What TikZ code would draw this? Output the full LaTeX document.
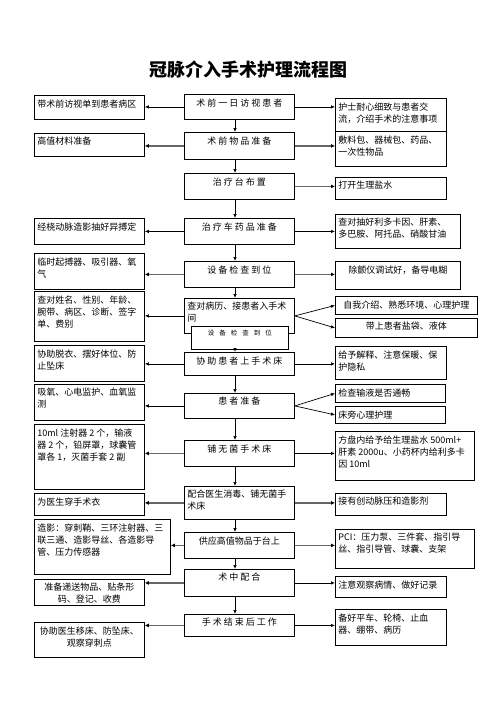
\documentclass[tikz,border=0pt]{standalone}
\usepackage{fontspec}
\setmainfont{Noto Sans CJK SC}
\usetikzlibrary{arrows.meta}

\tikzset{
  box/.style={draw, line width=0.8pt, fill=white, anchor=north west,
    inner xsep=3pt, inner ysep=4pt, font=\fontsize{9}{12}\selectfont},
  arr/.style={line width=0.7pt, -{Latex[length=4pt,width=3.5pt]}},
  garr/.style={line width=1.5pt, draw=black!60, -{Latex[length=4pt,width=4pt,black]}}
}
% name, x, y, width, height, text
\newcommand\bx[6]{\node[box] (#1) at (#2,#3)
  {\parbox[t][\dimexpr#5pt-8pt\relax][t]{\dimexpr#4pt-6pt\relax}{\raggedright #6}};}

\begin{document}
\begin{tikzpicture}[x=1pt,y=-1pt]
\useasboundingbox (0,0) rectangle (496,702);

\node[font=\fontsize{18}{18}\selectfont\bfseries] (title) at (248,70) {冠脉介入手术护理流程图};

% middle column
\bx{c1}{184}{94}{110}{25}{\centering 术 前 一 日 访 视 患 者}
\bx{c2}{184}{132}{110}{27}{\centering 术 前 物 品 准 备}
\bx{c3}{184}{173}{110}{26}{\centering 治 疗 台 布 置}
\bx{c4}{184}{218}{110}{26}{\centering 治 疗 车 药 品 准 备}
\bx{c5}{184}{261}{110}{26}{\centering 设 备 检 查 到 位}
\bx{c6}{184}{298}{110}{35}{查对病历、接患者入手术\\间}
\bx{c6b}{191}{326}{97}{23}{\centering\fontsize{6.5}{8}\selectfont
  设\hspace{5pt}备\hspace{5pt}检\hspace{5pt}查\hspace{5pt}到\hspace{5pt}位}
\bx{c7}{184}{352}{110}{23}{\centering 协 助 患 者 上 手 术 床}
\bx{c8}{184}{393}{110}{25}{\centering 患 者 准 备}
\bx{c9}{184}{440}{110}{26}{\centering 铺 无 菌 手 术 床}
\bx{c10}{184}{486}{110}{33}{配合医生消毒、铺无菌手\\术床}
\bx{c11}{184}{532}{110}{26}{\centering 供应高值物品于台上}
\bx{c12}{184}{569}{110}{27}{\centering 术 中 配 合}
\bx{c13}{184}{614}{110}{22}{\centering 手 术 结 束 后 工 作}

% left column
\bx{l1}{34}{95}{110}{24}{带术前访视单到患者病区}
\bx{l2}{34}{133}{110}{23}{高值材料准备}
\bx{l3}{34}{218}{110}{26}{经桡动脉造影抽好异搏定}
\bx{l4}{34}{253}{110}{36}{临时起搏器、吸引器、氧\\气}
\bx{l5}{34}{291}{110}{50}{查对姓名、性别、年龄、\\腕带、病区、诊断、签字\\单、费别}
\bx{l6}{34}{345}{110}{36}{协助脱衣、摆好体位、防\\止坠床}
\bx{l7}{34}{384}{110}{36}{吸氧、心电监护、血氧监\\测}
\bx{l8}{34}{424}{110}{65}{10ml 注射器 2 个，输液\\器 2 个，铅屏罩，球囊管\\罩各 1，灭菌手套 2 副}
\bx{l9}{34}{493}{110}{22}{为医生穿手术衣}
\bx{l10}{34}{519}{136}{55}{造影：穿刺鞘、三环注射器、三\\联三通、造影导丝、各造影导\\管、压力传感器}
\bx{l11}{34}{579}{110}{26}{\centering 准备递送物品、贴条形\\码、登记、收费}
\bx{l12}{34}{622}{110}{35}{\centering 协助医生移床、防坠床、\\观察穿刺点}

% right column
\bx{r1}{335}{98}{111}{33}{护士耐心细致与患者交\\流，介绍手术的注意事项}
\bx{r2}{335}{131}{111}{35}{敷料包、器械包、药品、\\一次性物品}
\bx{r3}{335}{177}{111}{22}{打开生理盐水}
\bx{r4}{335}{214}{125}{34}{查对抽好利多卡因、肝素、\\多巴胺、阿托品、硝酸甘油}
\bx{r5}{335}{261}{125}{28}{\centering 除颤仪调试好，备导电糊}
\bx{r6a}{335}{296}{142}{18}{\centering 自我介绍、熟悉环境、心理护理}
\bx{r6b}{335}{318}{142}{19}{\centering 带上患者盐袋、液体}
\bx{r7}{335}{346}{111}{33}{给予解释、注意保暖、保\\护隐私}
\bx{r8a}{335}{384}{110}{18}{检查输液是否通畅}
\bx{r8b}{335}{406}{110}{17}{床旁心理护理}
\bx{r9}{335}{431}{139}{49}{方盘内给予给生理盐水 500ml+\\肝素 2000u、小药杯内给利多卡\\因 10ml}
\bx{r10}{335}{493}{111}{22}{接有创动脉压和造影剂}
\bx{r11}{335}{529}{139}{39}{PCI：压力泵、三件套、指引导\\丝、指引导管、球囊、支架}
\bx{r12}{335}{576}{111}{21}{注意观察病情、做好记录}
\bx{r13}{335}{609}{111}{36}{备好平车、轮椅、止血\\器、绷带、病历}

% down the middle
\coordinate (axis) at (235,0);
\draw[arr] (axis |- c1.south) -- (axis |- c2.north);
\draw[arr] (axis |- c2.south) -- (axis |- c3.north);
\draw[arr] (axis |- c3.south) -- (axis |- c4.north);
\draw[arr] (axis |- c4.south) -- (axis |- c5.north);
\draw[arr] (axis |- c5.south) -- (axis |- c6.north);
\draw[arr] (axis |- c6b.south) -- (axis |- c7.north);
\draw[arr] (axis |- c7.south) -- (axis |- c8.north);
\draw[arr] (axis |- c8.south) -- (axis |- c9.north);
\draw[arr] (axis |- c9.south) -- (axis |- c10.north);
\draw[arr] (axis |- c10.south) -- (axis |- c11.north);
\draw[arr] (axis |- c11.south) -- (axis |- c12.north);
\draw[arr] (axis |- c12.south) -- (axis |- c13.north);

% to the left
\draw[arr] (c1.west) -- (c1.west -| l1.east);
\draw[garr] (c2.west) -- (c2.west -| l2.east);
\draw[arr] (c4.west) -- (c4.west -| l3.east);
\draw[garr] (c5.west) -- (c5.west -| l4.east);
\draw[arr] (c6.west) -- (c6.west -| l5.east);
\draw[arr] (c7.west) -- (c7.west -| l6.east);
\draw[arr] (c8.west) -- (c8.west -| l7.east);
\draw[garr] (c9.west) -- (c9.west -| l8.east);
\draw[garr] (c10.west) -- (c10.west -| l9.east);
\draw[garr] (c11.west) -- (c11.west -| l10.east);
\draw[garr] (c12.west) -- (c12.west -| l11.east);
\draw[garr] (c13.west) -- (c13.west -| l12.east);

% to the right
\draw[arr] (c1.east) -- (c1.east -| r1.west);
\draw[garr] (c2.east) -- (c2.east -| r2.west);
\draw[garr] (c3.east) -- (c3.east -| r3.west);
\draw[arr] (c4.east) -- (c4.east -| r4.west);
\draw[garr] (c5.east) -- (c5.east -| r5.west);
\draw[arr] (c6.east) -- (r6a.west);
\draw[arr] (c6.east) -- (r6b.west);
\draw[arr] (c7.east) -- (c7.east -| r7.west);
\draw[arr] (c8.east) -- (r8a.west);
\draw[arr] (c8.east) -- (r8b.west);
\draw[arr] (c9.east) -- (c9.east -| r9.west);
\draw[garr] (c10.east) -- (c10.east -| r10.west);
\draw[garr] (c11.east) -- (c11.east -| r11.west);
\draw[arr] (c12.east) -- (c12.east -| r12.west);
\draw[arr] (c13.east) -- (c13.east -| r13.west);
\end{tikzpicture}
\end{document}
